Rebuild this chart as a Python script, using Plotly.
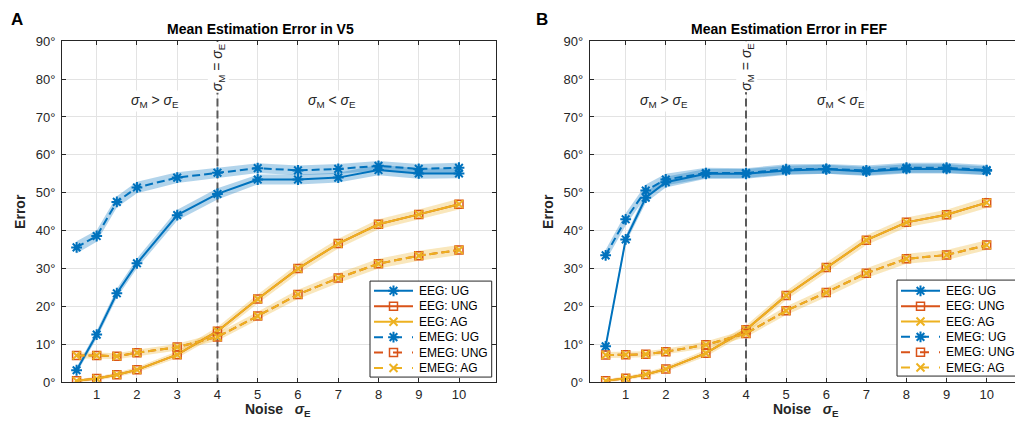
import plotly.graph_objects as go

# Page geometry: the figure is drawn W x H; on the page its rows land at
# ROW0 + ROW_SCALE * y, so text/box rows are given in page pixels below.
W, H = 1015, 426
ROW0, ROW_SCALE = 7.7, 0.962

# ---- data -------------------------------------------------------------
noise = [0.5, 1, 1.5, 2, 3, 4, 5, 6, 7, 8, 9, 10]
x_ticks = [1, 2, 3, 4, 5, 6, 7, 8, 9, 10]
y_ticks = [0, 10, 20, 30, 40, 50, 60, 70, 80, 90]
y_tick_text = ["0°", "10°", "20°", "30°", "40°", "50°", "60°", "70°", "80°", "90°"]

# Panel A: V5
v5_eeg_ug = [3.2, 12.6, 23.5, 31.4, 44.1, 49.7, 53.5, 53.5, 54.0, 56.0, 55.1, 55.1]
v5_eeg_ung = [0.4, 1.0, 2.0, 3.3, 7.3, 13.5, 22.0, 30.0, 36.6, 41.7, 44.3, 47.0]
v5_eeg_ag = [0.4, 1.0, 2.0, 3.3, 7.3, 13.5, 22.0, 30.0, 36.6, 41.7, 44.3, 47.0]
v5_emeg_ug = [35.6, 38.6, 47.6, 51.4, 54.0, 55.3, 56.5, 55.9, 56.3, 57.1, 56.3, 56.6]
v5_emeg_ung = [7.1, 7.1, 6.9, 7.8, 9.3, 12.0, 17.5, 23.2, 27.5, 31.3, 33.4, 34.9]
v5_emeg_ag = [7.1, 7.1, 6.9, 7.8, 9.3, 12.0, 17.5, 23.2, 27.5, 31.3, 33.4, 34.9]

v5_eeg_ug_sem = [0.8, 1.0, 1.2, 1.3, 1.4, 1.5, 1.3, 1.3, 1.3, 1.4, 1.4, 1.3]
v5_eeg_sem = [0.4, 0.5, 0.6, 0.7, 0.9, 1.1, 1.2, 1.3, 1.3, 1.3, 1.3, 1.4]
v5_emeg_ug_sem = [1.6, 1.5, 1.5, 1.5, 1.4, 1.4, 1.3, 1.3, 1.3, 1.3, 1.3, 1.3]
v5_emeg_sem = [0.8, 0.8, 0.8, 0.8, 0.9, 1.0, 1.1, 1.2, 1.3, 1.3, 1.3, 1.3]

# Panel B: FEF
fef_eeg_ug = [9.5, 37.7, 48.7, 52.8, 55.0, 55.0, 55.9, 56.2, 55.6, 56.3, 56.3, 55.8]
fef_eeg_ung = [0.4, 1.1, 2.1, 3.5, 7.7, 13.9, 22.9, 30.3, 37.5, 42.2, 44.2, 47.4]
fef_eeg_ag = [0.4, 1.1, 2.1, 3.5, 7.7, 13.9, 22.9, 30.3, 37.5, 42.2, 44.2, 47.4]
fef_emeg_ug = [33.5, 43.0, 50.6, 53.5, 55.2, 55.2, 56.2, 56.3, 55.9, 56.6, 56.6, 56.0]
fef_emeg_ung = [7.2, 7.3, 7.4, 8.1, 9.9, 12.9, 18.9, 23.7, 28.8, 32.6, 33.6, 36.2]
fef_emeg_ag = [7.2, 7.3, 7.4, 8.1, 9.9, 12.9, 18.9, 23.7, 28.8, 32.6, 33.6, 36.2]

fef_eeg_ug_sem = [0.6, 1.0, 1.3, 1.4, 1.3, 1.3, 1.2, 1.2, 1.2, 1.2, 1.2, 1.1]
fef_eeg_sem = [0.4, 0.5, 0.6, 0.7, 0.9, 1.1, 1.2, 1.3, 1.3, 1.3, 1.3, 1.4]
fef_emeg_ug_sem = [1.5, 1.6, 1.6, 1.5, 1.4, 1.3, 1.3, 1.3, 1.3, 1.3, 1.3, 1.3]
fef_emeg_sem = [0.8, 0.8, 0.8, 0.8, 0.9, 1.0, 1.1, 1.2, 1.3, 1.3, 1.3, 1.3]

series_labels = ["EEG: UG", "EEG: UNG", "EEG: AG", "EMEG: UG", "EMEG: UNG", "EMEG: AG"]

# ---- styles -----------------------------------------------------------
BLUE, ORANGE, YELLOW = "#0072BD", "#D95319", "#EDB120"
FONT = "Liberation Sans, Arial, Helvetica, sans-serif"
INK = "#262626"
DASH = "8px,4px"

group_style = {
    "UG": dict(color=BLUE, symbol="asterisk-open", size=9, mlw=2.0),
    "UNG": dict(color=ORANGE, symbol="square-open", size=8, mlw=1.5),
    "AG": dict(color=YELLOW, symbol="x-thin-open", size=8, mlw=2.0),
}
band_fill = {
    "UG": "rgba(0,114,189,0.30)",
    "UNG": "rgba(237,177,32,0.16)",
    "AG": "rgba(237,177,32,0.16)",
}

panels = [
    dict(xa="x", ya="y",
         series={"EEG": {"UG": v5_eeg_ug, "UNG": v5_eeg_ung, "AG": v5_eeg_ag},
                 "EMEG": {"UG": v5_emeg_ug, "UNG": v5_emeg_ung, "AG": v5_emeg_ag}},
         sem={"EEG": {"UG": v5_eeg_ug_sem, "UNG": v5_eeg_sem, "AG": v5_eeg_sem},
              "EMEG": {"UG": v5_emeg_ug_sem, "UNG": v5_emeg_sem, "AG": v5_emeg_sem}}),
    dict(xa="x2", ya="y2",
         series={"EEG": {"UG": fef_eeg_ug, "UNG": fef_eeg_ung, "AG": fef_eeg_ag},
                 "EMEG": {"UG": fef_emeg_ug, "UNG": fef_emeg_ung, "AG": fef_emeg_ag}},
         sem={"EEG": {"UG": fef_eeg_ug_sem, "UNG": fef_eeg_sem, "AG": fef_eeg_sem},
              "EMEG": {"UG": fef_emeg_ug_sem, "UNG": fef_emeg_sem, "AG": fef_emeg_sem}}),
]

fig = go.Figure()

for p in panels:
    # shaded error bands
    for mod in ["EEG", "EMEG"]:
        for g in ["UG", "UNG", "AG"]:
            m = p["series"][mod][g]
            s = p["sem"][mod][g]
            upper = [a + b for a, b in zip(m, s)]
            lower = [a - b for a, b in zip(m, s)]
            fig.add_trace(go.Scatter(
                x=noise + noise[::-1], y=upper + lower[::-1],
                fill="toself", fillcolor=band_fill[g], line=dict(width=0),
                mode="lines", hoverinfo="skip", showlegend=False,
                xaxis=p["xa"], yaxis=p["ya"]))
    # mean curves
    for mod in ["EEG", "EMEG"]:
        for g in ["UG", "UNG", "AG"]:
            st = group_style[g]
            fig.add_trace(go.Scatter(
                x=noise, y=p["series"][mod][g], mode="lines+markers",
                name=f"{mod}: {g}",
                line=dict(color=st["color"], width=2,
                          dash="solid" if mod == "EEG" else DASH),
                marker=dict(symbol=st["symbol"], size=st["size"],
                            color=st["color"],
                            line=dict(color=st["color"], width=st["mlw"])),
                showlegend=False, xaxis=p["xa"], yaxis=p["ya"]))


# ---- hand-built legends on a pixel-space overlay axis -------------------
def draw_legend(box, row_y0, row_dy, line_x0, line_x1, text_x):
    bx0, bx1, by0, by1 = box
    fig.add_trace(go.Scatter(
        x=[bx0, bx1, bx1, bx0, bx0], y=[by0, by0, by1, by1, by0],
        mode="lines", fill="toself", fillcolor="white",
        line=dict(color=INK, width=1), hoverinfo="skip", showlegend=False,
        xaxis="x3", yaxis="y3"))
    i = 0
    for mod in ["EEG", "EMEG"]:
        for g in ["UG", "UNG", "AG"]:
            st = group_style[g]
            yy = row_y0 + i * row_dy
            fig.add_trace(go.Scatter(
                x=[line_x0, line_x1], y=[yy, yy], mode="lines",
                line=dict(color=st["color"], width=2,
                          dash="solid" if mod == "EEG" else "9px,10px"),
                hoverinfo="skip", showlegend=False, xaxis="x3", yaxis="y3"))
            fig.add_trace(go.Scatter(
                x=[(line_x0 + line_x1) / 2], y=[yy], mode="markers",
                marker=dict(symbol=st["symbol"], size=st["size"],
                            color=st["color"],
                            line=dict(color=st["color"], width=st["mlw"])),
                hoverinfo="skip", showlegend=False, cliponaxis=False,
                xaxis="x3", yaxis="y3"))
            fig.add_annotation(
                x=text_x, y=yy, xref="x3", yref="y3", text=series_labels[i],
                showarrow=False, xanchor="left", yanchor="middle",
                font=dict(family=FONT, size=12, color="#000000"))
            i += 1


draw_legend((370, 491.7, 281, 376.7), 290.7, 15.4, 374, 413, 416.5)
draw_legend((897, 1040, 280, 375.7), 290.7, 15.3, 901, 940, 943.5)


# ---- axes ---------------------------------------------------------------
def xa(domain, rng, anchor):
    return dict(domain=domain, range=rng, tickvals=x_ticks, anchor=anchor,
                ticks="inside", ticklen=4, tickcolor=INK,
                showline=True, linecolor=INK, linewidth=1, mirror="ticks",
                showgrid=True, gridcolor="#E3E3E3", gridwidth=1,
                zeroline=False, tickfont=dict(family=FONT, size=13, color=INK),
                fixedrange=True)


def ya(domain, mirror, anchor):
    return dict(domain=domain, range=[0, 90], tickvals=y_ticks,
                ticktext=y_tick_text, ticks="inside", ticklen=4, tickcolor=INK,
                showline=True, linecolor=INK, linewidth=1, mirror=mirror,
                showgrid=True, gridcolor="#E3E3E3", gridwidth=1,
                zeroline=False, anchor=anchor, ticklabelstandoff=3,
                tickfont=dict(family=FONT, size=13, color=INK),
                fixedrange=True)


def fy(yp):
    """Page pixel row -> paper fraction."""
    return 1 - (yp - ROW0) / (ROW_SCALE * H)


y_dom = [fy(382), fy(41.7)]

fig.update_layout(
    width=W, height=H, margin=dict(l=0, r=0, t=0, b=0),
    paper_bgcolor="white", plot_bgcolor="rgba(0,0,0,0)",
    showlegend=False,
    xaxis=xa([62 / W, 496 / W], [0.138, 10.919], "y"),
    yaxis=ya(y_dom, "ticks", "x"),
    xaxis2=xa([589.7 / W, 1.0], [0.1025, 10.706], "y2"),
    yaxis2=ya(y_dom, False, "x2"),
    xaxis3=dict(domain=[0, 1], range=[0, W], visible=False, anchor="y3",
                fixedrange=True),
    yaxis3=dict(domain=[0, 1], range=[ROW0 + ROW_SCALE * H, ROW0],
                visible=False, anchor="x3", fixedrange=True),
)

# sigma_M = sigma_E divider
for xr, yr in [("x", "y"), ("x2", "y2")]:
    fig.add_shape(type="line", xref=xr, yref=yr, x0=4, x1=4, y0=0, y1=90,
                  line=dict(color="#5A5A5A", width=2, dash="8px,4px"),
                  layer="between")


def pa(xp, yp, text, size, color="#000000", **kw):
    fig.add_annotation(x=xp / W, y=fy(yp), xref="paper", yref="paper",
                       xanchor="center", yanchor="middle",
                       text=text, showarrow=False,
                       font=dict(family=FONT, size=size, color=color), **kw)


SIG_GT = "<i>σ</i><sub>M</sub> > <i>σ</i><sub>E</sub>"
SIG_LT = "<i>σ</i><sub>M</sub> < <i>σ</i><sub>E</sub>"
SIG_EQ = "<i>σ</i><sub>M</sub> = <i>σ</i><sub>E</sub>"
XTITLE = "<b>Noise\u00a0\u00a0\u00a0<i>σ</i><sub>E</sub></b>"

for letter, lx, title, t_cx, eq_x, gt_x, lt_x, xt_x, ex in [
    ("A", 17, "Mean Estimation Error in V5", 260, 218.3, 155, 331.7, 278, 20),
    ("B", 541.7, "Mean Estimation Error in FEF", 789, 746.7, 663.8, 840.8, 806, 548),
]:
    pa(lx, 20.5, f"<b>{letter}</b>", 17)
    pa(t_cx, 30, f"<b>{title}</b>", 14)
    pa(gt_x, 101, SIG_GT, 14, color=INK, bgcolor="white")
    pa(lt_x, 101, SIG_LT, 14, color=INK, bgcolor="white")
    pa(eq_x, 67.5, SIG_EQ, 14, color=INK, bgcolor="white", textangle=-90)
    pa(xt_x, 410, XTITLE, 14, color=INK)
    pa(ex, 212, "<b>Error</b>", 14, color=INK, textangle=-90)

fig.write_html("out.html", post_script="document.body.style.margin='0';")
